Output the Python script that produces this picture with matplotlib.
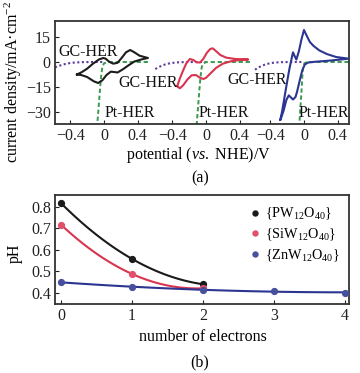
import numpy as np
import matplotlib
matplotlib.use("Agg")
import matplotlib.pyplot as plt

plt.rcParams['font.family'] = ['Liberation Serif', 'DejaVu Serif']
plt.rcParams['mathtext.fontset'] = 'custom'
plt.rcParams['mathtext.rm'] = 'Liberation Serif'
plt.rcParams['mathtext.it'] = 'Liberation Serif:italic'
plt.rcParams['axes.unicode_minus'] = True

# ---------------- Panel (a) data: three CV windows ----------------
seg_offsets = [0.0, 1.207, 2.367]          # horizontal placement of each window
seg_ticks = [-0.4, 0.0, 0.4]
seg_ticklabels = ['\u22120.4', '0', '0.4']

# PW12O40 (black)
cv1_v = [-0.32, -0.26, -0.20, -0.13, -0.06, -0.01, 0.02, 0.06, 0.11, 0.16, 0.21, 0.26, 0.31, 0.36, 0.42, 0.52,
         0.44, 0.36, 0.29, 0.22, 0.16, 0.12, 0.08, 0.03, -0.02, -0.07, -0.12, -0.20, -0.27, -0.32]
cv1_j = [-7.5, -6.0, -4.0, -1.0, 1.5, 2.4, 2.0, 0.2, -1.0, -0.5, 2.5, 5.8, 7.2, 5.8, 3.8, 2.4,
         1.5, 0.3, -2.0, -4.5, -6.3, -6.0, -5.8, -7.8, -11.0, -12.6, -11.6, -9.0, -7.8, -7.5]
gc1_v = [-0.58, -0.52, -0.46, -0.40, -0.34, -0.26, -0.15, 0.0]
gc1_j = [-3.2, -2.1, -1.2, -0.6, -0.3, -0.1, 0.0, 0.0]
pt1_v = [0.52, 0.2, 0.04, 0.0, -0.02, -0.035, -0.05, -0.065, -0.08]
pt1_j = [0.0, 0.0, -0.1, -0.8, -3.0, -9.0, -18.0, -28.0, -37.5]

# SiW12O40 (red)
cv2_v = [-0.34, -0.31, -0.27, -0.23, -0.19, -0.15, -0.11, -0.07, -0.03, 0.01, 0.05, 0.08, 0.12, 0.17, 0.24, 0.35, 0.50,
         0.40, 0.30, 0.20, 0.12, 0.05, 0.0, -0.03, -0.07, -0.12, -0.17, -0.22, -0.27, -0.31, -0.34]
cv2_j = [-14.5, -10.0, -5.0, -0.5, 1.8, 1.2, -0.2, -0.3, 2.0, 5.5, 7.8, 8.2, 6.5, 4.2, 2.6, 1.8, 1.5,
         1.2, 0.5, -1.0, -3.5, -7.0, -9.5, -10.2, -9.5, -7.8, -8.0, -10.5, -14.0, -15.8, -14.5]
gc2_v = [-0.60, -0.54, -0.48, -0.42, -0.36, -0.28, -0.15, 0.0]
gc2_j = [-4.2, -2.6, -1.4, -0.7, -0.3, -0.1, 0.0, 0.0]
pt2_v = [0.52, 0.2, 0.0, -0.03, -0.05, -0.065, -0.08, -0.095, -0.11]
pt2_j = [0.0, 0.0, -0.1, -0.8, -3.0, -9.0, -18.0, -28.0, -37.5]

# ZnW12O40 (blue)
cv3_v = [-0.28, -0.26, -0.23, -0.20, -0.17, -0.14, -0.13, -0.11, -0.09, -0.06, -0.03, 0.0, 0.03, 0.07, 0.11, 0.18, 0.27, 0.38, 0.53,
         0.40, 0.25, 0.12, 0.05, 0.01, -0.02, -0.05, -0.08, -0.10, -0.13, -0.15, -0.18, -0.21, -0.24, -0.27, -0.28]
cv3_j = [-34.6, -30.0, -21.0, -12.0, -3.5, 3.5, 5.8, 3.5, 1.5, 6.5, 13.5, 19.2, 16.0, 12.0, 9.8, 7.0, 4.8, 3.0, 2.0,
         1.3, 0.6, 0.1, -0.3, -1.5, -5.0, -11.0, -17.5, -21.0, -22.5, -21.5, -20.0, -23.0, -29.0, -33.5, -34.6]
gc3_v = [-0.58, -0.52, -0.46, -0.40, -0.34, -0.27, -0.15, 0.0]
gc3_j = [-4.6, -2.8, -1.5, -0.7, -0.3, -0.1, 0.0, 0.0]
pt3_v = [0.53, 0.2, 0.03, 0.005, -0.01, -0.02, -0.03, -0.043, -0.055]
pt3_j = [0.0, 0.0, -0.1, -0.8, -3.0, -9.0, -18.0, -28.0, -37.5]

cv_colors = ['#1c1c1c', '#d9354f', '#2c3590']
yticks_a = [15, 0, -15, -30]
yticklabels_a = ['15', '0', '\u221215', '\u221230']

# ---------------- Panel (b) data ----------------
n_pw = [0, 1, 2]
ph_pw = [0.816, 0.557, 0.439]
n_si = [0, 1, 2]
ph_si = [0.716, 0.487, 0.420]
n_zn = [0, 1, 2, 3, 4]
ph_zn = [0.448, 0.428, 0.410, 0.408, 0.400]
labels_b = ['{PW$_{12}$O$_{40}$}', '{SiW$_{12}$O$_{40}$}', '{ZnW$_{12}$O$_{40}$}']
line_colors_b = ['#1a1a1a', '#d9354f', '#2c3590']
marker_colors_b = ['#1a1a1a', '#e0506a', '#46509c']

W, H = 360, 373
fig = plt.figure(figsize=(W / 100, H / 100), dpi=100)

def px_axes(l, t, r, b):
    return fig.add_axes([l / W, 1 - b / H, (r - l) / W, (b - t) / H])

FS = 11.5
spine_c = '#333333'

# ---- Panel (a)
axa = px_axes(55, 21, 349, 124)
segs = [(cv1_v, cv1_j, gc1_v, gc1_j, pt1_v, pt1_j),
        (cv2_v, cv2_j, gc2_v, gc2_j, pt2_v, pt2_j),
        (cv3_v, cv3_j, gc3_v, gc3_j, pt3_v, pt3_j)]
xt, xtl = [], []
for k, (cv_v, cv_j, gv, gj, pv, pj) in enumerate(segs):
    off = seg_offsets[k]
    axa.plot(np.array(gv) + off, gj, color='#5e3a9e', lw=1.5, ls=(0, (1, 1.2)), zorder=2)
    axa.plot(np.array(pv) + off, pj, color='#3a9a50', lw=1.4, ls=(0, (2.2, 1.4)), zorder=2)
    axa.plot(np.array(cv_v) + off, cv_j, color=cv_colors[k], lw=1.5, zorder=3)
    for t, tl in zip(seg_ticks, seg_ticklabels):
        xt.append(t + off)
        xtl.append(tl)
axa.set_xlim(-0.58, 2.90)
axa.set_ylim(-37.2, 24.6)
axa.set_xticks(xt)
axa.set_xticklabels(xtl, fontsize=FS)
axa.set_yticks(yticks_a)
axa.set_yticklabels(yticklabels_a, fontsize=FS)
axa.tick_params(direction='in', length=3, width=0.8, pad=3, colors='#222222')

txt_kw = dict(fontsize=FS, va='center', ha='left', color='#111111', zorder=5)
axa.text(-0.545, 6.0, 'GC-HER', **txt_kw)
axa.text(0.166, -12.6, 'GC-HER', **txt_kw)
axa.text(1.456, -10.8, 'GC-HER', **txt_kw)
axa.text(0.012, -30.6, 'Pt-HER', **txt_kw)
axa.text(1.124, -30.6, 'Pt-HER', **txt_kw)
axa.text(2.308, -30.6, 'Pt-HER', **txt_kw)
for s in axa.spines.values():
    s.set_color(spine_c)
    s.set_linewidth(1.3)

fig.text(13 / W, 1 - 82 / H, 'current density/mA\u00b7cm$^{-2}$', rotation=90,
         ha='center', va='center', fontsize=FS)
fig.text(198 / W, 1 - 155 / H, 'potential ($\\mathit{vs.}$ NHE)/V', ha='center', va='center', fontsize=FS)
fig.text(200 / W, 1 - 178 / H, '(a)', ha='center', va='center', fontsize=FS)

# ---- Panel (b)
axb = px_axes(55, 195, 349, 304)
for xs, ys, lc in [(n_pw, ph_pw, line_colors_b[0]),
                   (n_si, ph_si, line_colors_b[1]),
                   (n_zn, ph_zn, line_colors_b[2])]:
    coef = np.polyfit(xs, ys, 2)
    xf = np.linspace(min(xs), max(xs), 100)
    axb.plot(xf, np.polyval(coef, xf), color=lc, lw=1.5, zorder=2)
handles = []
for xs, ys, mc, lab in [(n_pw, ph_pw, marker_colors_b[0], labels_b[0]),
                        (n_si, ph_si, marker_colors_b[1], labels_b[1]),
                        (n_zn, ph_zn, marker_colors_b[2], labels_b[2])]:
    h, = axb.plot(xs, ys, 'o', color=mc, ms=4.2, mec=mc, zorder=3, label=lab)
    handles.append(h)
axb.set_xlim(-0.085, 4.06)
axb.set_ylim(0.347, 0.854)
axb.set_xticks([0, 1, 2, 3, 4])
axb.set_yticks([0.4, 0.5, 0.6, 0.7, 0.8])
axb.set_yticklabels(['0.4', '0.5', '0.6', '0.7', '0.8'], fontsize=FS)
axb.set_xticklabels(['0', '1', '2', '3', '4'], fontsize=FS)
axb.tick_params(direction='in', length=3, width=0.8, pad=3, colors='#222222')
for s in axb.spines.values():
    s.set_color(spine_c)
    s.set_linewidth(1.3)
leg = axb.legend(handles=handles, loc='upper left', bbox_to_anchor=((251 - 55) / 294, (304 - 206) / 109),
                 frameon=False, fontsize=10.3, handlelength=0.6, handletextpad=0.35,
                 labelspacing=0.3, borderpad=0, borderaxespad=0, markerscale=0.85)
fig.text(15 / W, 1 - 253 / H, 'pH', rotation=90, ha='center', va='center', fontsize=FS)
fig.text(203 / W, 1 - 337 / H, 'number of electrons', ha='center', va='center', fontsize=FS)
fig.text(200 / W, 1 - 362 / H, '(b)', ha='center', va='center', fontsize=FS)

fig.savefig('out.png', dpi=100)
